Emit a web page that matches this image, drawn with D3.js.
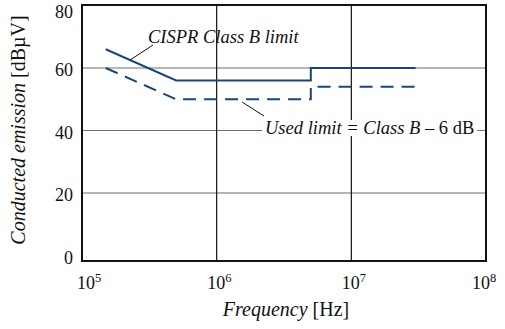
<!DOCTYPE html>
<html>
<head>
<meta charset="utf-8">
<script src="https://cdn.jsdelivr.net/npm/d3@7"></script>
<style>
  html, body { margin: 0; padding: 0; background: #fff; }
  svg { display: block; }
  text { font-family: "Liberation Serif", "Times New Roman", serif; fill: #111; }
</style>
</head>
<body>
<svg id="chart" width="505" height="329"></svg>
<script>
// Conducted emission limits (quasi-peak), frequency in Hz, level in dBµV
const limitFreq = [150e3, 500e3, 5e6, 5e6, 30e6];
const classBLimit = [66, 56, 56, 60, 60];
const usedLimit = [60, 50, 50, 54, 54];

// Axis ticks
const xTickValues = [1e5, 1e6, 1e7, 1e8];
const xTickExponents = ["5", "6", "7", "8"];
const yTickValues = [0, 20, 40, 60, 80];

// Frame edges and the vertical span of the value scale
const plot = { left: 82, right: 486, top: 5, bottom: 261 };
const yRange = [255.5, 5.5];
const lineColor = "#1b4579";
const tickFont = 18;
const noteFont = 18.5;
const titleFont = 20;

const svg = d3.select("#chart");

const x = d3.scaleLog().domain([1e5, 1e8]).range([plot.left, plot.right]);
const y = d3.scaleLinear().domain([0, 80]).range(yRange);

// Horizontal grid (grey) and vertical grid (black)
svg.append("g")
  .selectAll("line")
  .data(yTickValues.filter(v => v > 0 && v < 80))
  .join("line")
  .attr("x1", plot.left).attr("x2", plot.right)
  .attr("y1", d => y(d)).attr("y2", d => y(d))
  .attr("stroke", "#6e6e6e").attr("stroke-width", 1.2);

svg.append("g")
  .selectAll("line")
  .data(xTickValues.slice(1, -1))
  .join("line")
  .attr("x1", d => x(d)).attr("x2", d => x(d))
  .attr("y1", plot.top).attr("y2", plot.bottom)
  .attr("stroke", "#111").attr("stroke-width", 1.2);

// Limit curves
const line = d3.line()
  .x((d, i) => x(limitFreq[i]))
  .y(d => y(d));

svg.append("path")
  .datum(classBLimit)
  .attr("d", line)
  .attr("fill", "none")
  .attr("stroke", lineColor)
  .attr("stroke-width", 2);

svg.append("path")
  .datum(usedLimit)
  .attr("d", line)
  .attr("fill", "none")
  .attr("stroke", lineColor)
  .attr("stroke-width", 2)
  .attr("stroke-dasharray", "13,8");

// Frame
svg.append("rect")
  .attr("x", plot.left).attr("y", plot.top)
  .attr("width", plot.right - plot.left)
  .attr("height", plot.bottom - plot.top)
  .attr("fill", "none")
  .attr("stroke", "#111")
  .attr("stroke-width", 2);

// Y tick labels
svg.append("g")
  .selectAll("text")
  .data(yTickValues)
  .join("text")
  .attr("x", plot.left - 9)
  .attr("y", d => Math.max(y(d) + 8, 18))
  .attr("text-anchor", "end")
  .attr("font-size", tickFont)
  .text(d => d);

// X tick labels: 10 with superscript exponent
const xLabels = svg.append("g")
  .selectAll("text")
  .data(xTickValues)
  .join("text")
  .attr("x", d => Math.min(Math.max(x(d) - 9.5, plot.left - 5), plot.right - 14))
  .attr("y", 289)
  .attr("font-size", tickFont);
xLabels.append("tspan").text("10");
xLabels.append("tspan")
  .attr("dy", -7)
  .attr("font-size", 12.5)
  .text((d, i) => xTickExponents[i]);

// Axis titles
const xTitle = svg.append("text")
  .attr("x", 286)
  .attr("y", 316)
  .attr("text-anchor", "middle")
  .attr("font-size", titleFont);
xTitle.append("tspan").attr("font-style", "italic").text("Frequency");
xTitle.append("tspan").text(" [Hz]");

const yTitle = svg.append("text")
  .attr("transform", "translate(25,130) rotate(-90)")
  .attr("text-anchor", "middle")
  .attr("font-size", titleFont);
yTitle.append("tspan").attr("font-style", "italic").text("Conducted emission");
yTitle.append("tspan").text(" [dBµV]");

// Annotation: Class B limit
svg.append("line")
  .attr("x1", 130).attr("y1", 60).attr("x2", 153).attr("y2", 45)
  .attr("stroke", "#111").attr("stroke-width", 1);
svg.append("text")
  .attr("x", 148).attr("y", 43)
  .attr("font-size", noteFont)
  .attr("font-style", "italic")
  .text("CISPR Class B limit");

// Annotation: used limit, on a white backing that breaks the grid line
const usedGroup = svg.append("g");
const usedBack = usedGroup.append("rect").attr("fill", "#fff");
const usedLabel = usedGroup.append("text")
  .attr("x", 265).attr("y", 134)
  .attr("font-size", noteFont);
usedLabel.append("tspan").attr("font-style", "italic").text("Used limit = Class B");
usedLabel.append("tspan").text(" – 6 dB");
const bb = usedLabel.node().getBBox();
usedBack
  .attr("x", bb.x - 3).attr("y", bb.y + 2)
  .attr("width", bb.width + 6).attr("height", bb.height - 4);
svg.append("line")
  .attr("x1", 242).attr("y1", 102).attr("x2", 264).attr("y2", 116)
  .attr("stroke", "#111").attr("stroke-width", 1);
</script>
</body>
</html>
